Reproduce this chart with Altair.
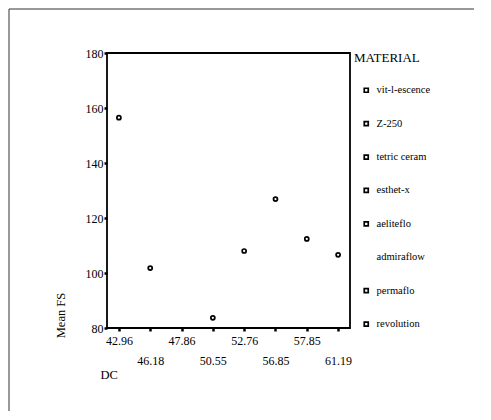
import altair as alt
import pandas as pd

# categories on the DC axis (ordinal)
dc_levels = ["42.96", "46.18", "47.86", "50.55", "52.76", "56.85", "57.85", "61.19"]
# legend materials
materials = ["vit-l-escence", "Z-250", "tetric ceram", "esthet-x",
             "aeliteflo", "admiraflow", "permaflo", "revolution"]
material_dc = ["42.96", "46.18", "50.55", "52.76", "56.85", "47.86", "57.85", "61.19"]
mean_fs = [156.5, 101.8, 83.7, 108.0, 126.9, None, 112.4, 106.6]
marker_colors = ["black", "black", "black", "black", "black", "white", "black", "black"]
y_ticks = [80, 100, 120, 140, 160, 180]
second_row = ["46.18", "50.55", "56.85", "61.19"]

df = pd.DataFrame({"DC": material_dc, "FS": mean_fs, "MATERIAL": materials})

FONT = "Liberation Serif"
label_expr = ("indexof(" + str(second_row) +
              ", datum.label) >= 0 ? ['', datum.label] : datum.label")

points = alt.Chart(df).mark_point(
    filled=False, shape="circle", size=16, strokeWidth=1.7, opacity=1
).encode(
    x=alt.X("DC:N", sort=dc_levels,
            scale=alt.Scale(domain=dc_levels, padding=0.38),
            axis=alt.Axis(title="DC", labelAngle=0, labelExpr=label_expr,
                          labelLineHeight=20, labelBaseline="top",
                          labelOverlap=False, labelPadding=4,
                          labelFont=FONT, titleFont=FONT,
                          labelFontSize=12, tickSize=3, tickWidth=2.5,
                          titleX=-7, titleY=50, titleAlign="left",
                          titleBaseline="alphabetic", titleFontSize=12.5,
                          titleFontWeight="normal")),
    y=alt.Y("FS:Q", scale=alt.Scale(domain=[80, 180], nice=False, zero=False),
            axis=alt.Axis(title="Mean FS", values=y_ticks, labelFontSize=12,
                          labelFont=FONT, titleFont=FONT,
                          labelPadding=1, tickSize=3, tickWidth=2.5,
                          titleX=-47, titleY=262, titleAngle=270,
                          titleAlign="center", titleBaseline="middle",
                          titleFontSize=12.5, titleFontWeight="normal")),
    color=alt.Color("MATERIAL:N",
                    scale=alt.Scale(domain=materials, range=marker_colors),
                    legend=alt.Legend(title="MATERIAL", orient="none",
                                      legendX=247, legendY=-1,
                                      labelFont=FONT, titleFont=FONT,
                                      titleFontSize=13, titleFontWeight="normal",
                                      titlePadding=20, labelFontSize=10.5,
                                      rowPadding=21.4, symbolOffset=7,
                                      labelOffset=5, symbolSize=16,
                                      symbolStrokeWidth=1.7,
                                      symbolType="square")),
)

frame = alt.Chart(pd.DataFrame({"a": [0]})).mark_rule(color="#333", strokeWidth=1).encode(
    x=alt.value(-98), y=alt.value(-44), y2=alt.value(358)
)
top_line = alt.Chart(pd.DataFrame({"a": [0]})).mark_rule(color="#333", strokeWidth=1).encode(
    x=alt.value(-98), x2=alt.value(367), y=alt.value(-44)
)

chart = alt.layer(points, frame, top_line).properties(
    width=243, height=275,
    autosize=alt.AutoSizeParams(type="none"),
    padding={"left": 99, "top": 45, "right": 133, "bottom": 84},
).configure(font=FONT).configure_view(
    stroke="black", strokeWidth=1.8
).configure_axis(
    domain=False, grid=False, tickColor="black", labelColor="black",
    titleColor="black", labelFont=FONT, titleFont=FONT
).configure_legend(
    labelFont=FONT, titleFont=FONT, labelColor="black", titleColor="black"
)

chart.save("out.html", embed_options={"renderer": "svg", "actions": False})
